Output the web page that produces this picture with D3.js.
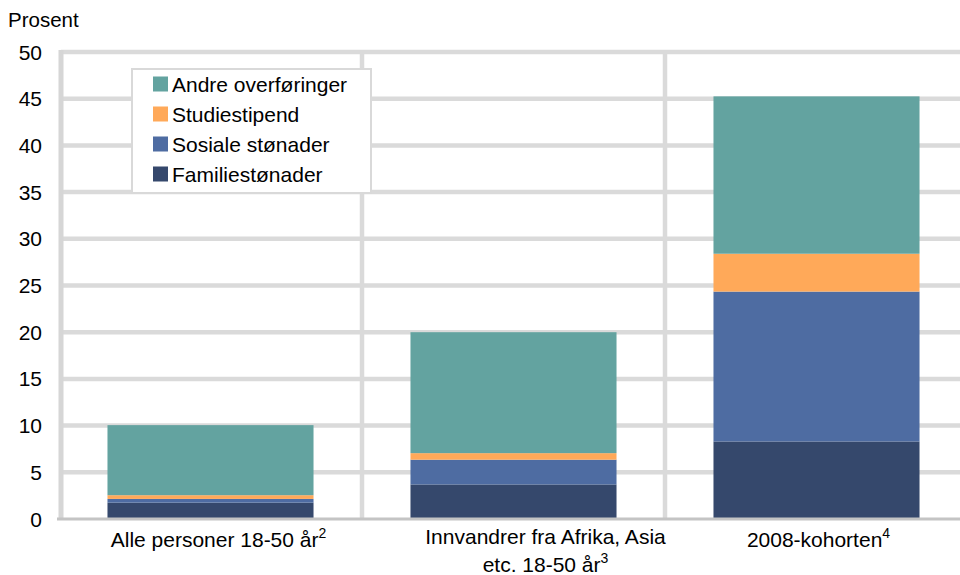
<!DOCTYPE html>
<html><head><meta charset="utf-8">
<script src="https://cdn.jsdelivr.net/npm/d3@7"></script>
<style>body{margin:0;background:#fff}svg{display:block;font-family:"Liberation Sans",Arial,sans-serif}</style>
</head><body><svg id="c" width="960" height="575"></svg>
<script>
const categories = ["Alle personer 18-50 år", "Innvandrer fra Afrika, Asia etc. 18-50 år", "2008-kohorten"];
const labelLines = [["Alle personer 18-50 år|2"], ["Innvandrer fra Afrika, Asia", "etc. 18-50 år|3"], ["2008-kohorten|4"]];
const seriesNames = ["Familiestønader", "Sosiale stønader", "Studiestipend", "Andre overføringer"];
const familie = [1.75, 3.7, 8.3];
const sosiale = [0.4, 2.65, 16.05];
const studie = [0.4, 0.7, 4.05];
const andre = [7.5, 12.95, 16.85];
const yTicks = [0, 5, 10, 15, 20, 25, 30, 35, 40, 45, 50];
const colors = ["#35486C", "#4E6CA2", "#FFA959", "#63A3A0"];

// layout only: horizontal nudges of category labels relative to bar centres
const labelDx = [8, 32, 2];

const svg = d3.select("#c");
const x = d3.scaleBand().domain(categories).range([59, 968]).paddingInner(0.32).paddingOuter(0.16);
const y = d3.scaleLinear().domain([0, 50]).range([519, 52]);
const values = [familie, sosiale, studie, andre];
const rows = categories.map((c, i) => { const o = {cat: c}; seriesNames.forEach((s, k) => o[s] = values[k][i]); return o; });
const stack = d3.stack().keys(seriesNames)(rows);

// grid
svg.append("g").selectAll("line").data(yTicks.filter(d => d > 0)).join("line")
  .attr("x1", 61).attr("x2", 960).attr("y1", d => y(d)).attr("y2", d => y(d))
  .attr("stroke", "#DADADA").attr("stroke-width", 4.5);
const bounds = categories.slice(1).map(c => x(c) - x.step() * x.paddingInner() / 2);
svg.append("g").selectAll("line").data(bounds).join("line")
  .attr("x1", d => d).attr("x2", d => d).attr("y1", y(50) - 2).attr("y2", y(0))
  .attr("stroke", "#DADADA").attr("stroke-width", 4.5);
svg.append("line").attr("x1", 61).attr("x2", 61).attr("y1", y(50) - 2).attr("y2", y(0))
  .attr("stroke", "#D6D6D6").attr("stroke-width", 5);

// bars
svg.append("g").selectAll("g").data(stack).join("g").attr("fill", (d, i) => colors[i])
  .selectAll("rect").data(d => d).join("rect")
  .attr("x", d => x(d.data.cat)).attr("width", x.bandwidth())
  .attr("y", d => y(d[1])).attr("height", d => y(d[0]) - y(d[1]));

// x axis line
svg.append("line").attr("x1", 57).attr("x2", 960).attr("y1", y(0)).attr("y2", y(0))
  .attr("stroke", "#C4C4C4").attr("stroke-width", 3);

// y tick labels
svg.append("g").selectAll("text").data(yTicks).join("text")
  .attr("x", 42).attr("y", d => y(d) + 7.5).attr("text-anchor", "end")
  .attr("font-size", 21).attr("fill", "#000").text(d => d);
svg.append("text").attr("x", 8).attr("y", 27).attr("font-size", 20.5).attr("fill", "#000").text("Prosent");

// category labels
categories.forEach((c, i) => {
  const lines = labelLines[i];
  const cx = x(c) + x.bandwidth() / 2 + labelDx[i];
  lines.forEach((ln, j) => {
    const [main, sup] = ln.split("|");
    const base = lines.length > 1 ? 544 : 547;
    const t = svg.append("text").attr("x", cx).attr("y", base + j * 28).attr("text-anchor", "middle")
      .attr("font-size", 21).attr("fill", "#000");
    t.append("tspan").text(main);
    if (sup) t.append("tspan").attr("dy", -9).attr("font-size", 14).text(sup);
  });
});

// legend
const lg = svg.append("g");
lg.append("rect").attr("x", 132).attr("y", 69).attr("width", 239).attr("height", 124)
  .attr("fill", "#fff").attr("stroke", "#D9D9D9").attr("stroke-width", 2);
const legOrder = seriesNames.slice().reverse();
legOrder.forEach((s, i) => {
  const cy = 84 + i * 30;
  lg.append("rect").attr("x", 153).attr("y", cy - 7.5).attr("width", 15).attr("height", 15)
    .attr("fill", colors[seriesNames.indexOf(s)]);
  lg.append("text").attr("x", 172).attr("y", cy + 7.5).attr("font-size", 21).attr("fill", "#000").text(s);
});
</script></body></html>
